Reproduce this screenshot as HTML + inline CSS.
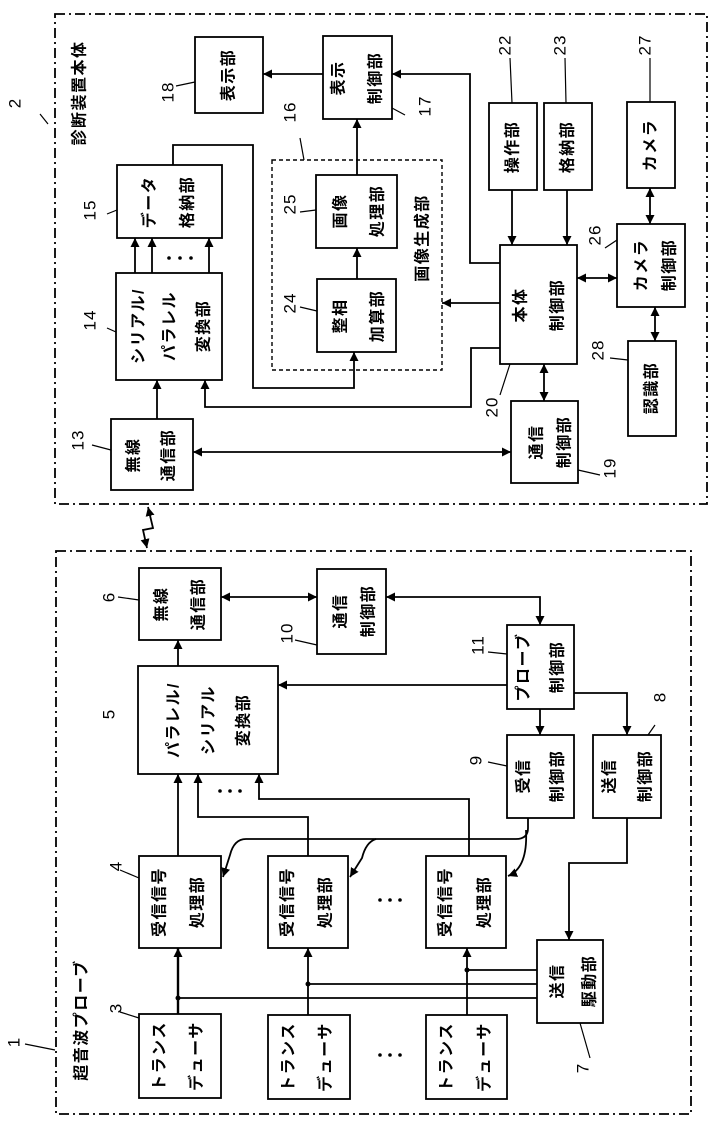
<!DOCTYPE html>
<html><head><meta charset="utf-8"><style>
html,body{margin:0;padding:0;background:#fff}
svg{display:block}
text{font-family:"Liberation Sans","Noto Sans CJK JP",sans-serif;font-size:16px;font-weight:bold;fill:#000;text-anchor:middle;dominant-baseline:central;letter-spacing:1.5px}
.n{font-size:17px;font-weight:normal;letter-spacing:1px}
</style></head><body>
<svg width="710" height="1128" viewBox="0 0 710 1128" xmlns="http://www.w3.org/2000/svg">
<defs>
<marker id="a" viewBox="0 0 10 10" refX="10" refY="5" markerWidth="9" markerHeight="9" markerUnits="userSpaceOnUse" orient="auto-start-reverse"><path d="M0,0L10,5L0,10z" fill="#000"/></marker>
</defs>
<g fill="none" stroke="#000" stroke-width="1.8">
<rect x="55" y="14" width="652" height="490" stroke-dasharray="10,4,2,4"/>
<rect x="56" y="551" width="635" height="563" stroke-dasharray="10,4,2,4"/>
<rect x="195" y="37" width="68" height="76"/>
<rect x="323" y="36" width="69" height="83"/>
<rect x="117" y="165" width="105" height="73"/>
<rect x="116" y="273" width="106" height="107"/>
<rect x="111" y="419" width="82" height="71"/>
<rect x="272" y="160" width="170" height="210" stroke-dasharray="4,3" stroke-width="1.4"/>
<rect x="316" y="175" width="81" height="73"/>
<rect x="317" y="279" width="79" height="73"/>
<rect x="489" y="103" width="48" height="87"/>
<rect x="544" y="103" width="48" height="87"/>
<rect x="627" y="102" width="48" height="86"/>
<rect x="500" y="245" width="77" height="119"/>
<rect x="617" y="224" width="68" height="83"/>
<rect x="628" y="341" width="48" height="95"/>
<rect x="511" y="401" width="67" height="82"/>
<path d="M323 74H263" marker-end="url(#a)"/>
<path d="M500 263H470V74H392" marker-end="url(#a)"/>
<path d="M357 175V119" marker-end="url(#a)"/>
<path d="M357 279V248" marker-end="url(#a)"/>
<path d="M500 303H442" marker-end="url(#a)"/>
<path d="M512 190V245" marker-end="url(#a)"/>
<path d="M567 190V245" marker-end="url(#a)"/>
<path d="M650 188V224" marker-start="url(#a)" marker-end="url(#a)"/>
<path d="M577 278H617" marker-start="url(#a)" marker-end="url(#a)"/>
<path d="M655 307V341" marker-start="url(#a)" marker-end="url(#a)"/>
<path d="M544 364V401" marker-start="url(#a)" marker-end="url(#a)"/>
<path d="M193 452H511" marker-start="url(#a)" marker-end="url(#a)"/>
<path d="M157 419V380" marker-end="url(#a)"/>
<path d="M500 348H471V407H205V380" marker-end="url(#a)"/>
<path d="M173 165V145H253V388H354V352" marker-end="url(#a)"/>
<path d="M135 273V238" marker-end="url(#a)"/>
<path d="M152 273V238" marker-end="url(#a)"/>
<path d="M209 273V238" marker-end="url(#a)"/>
<path d="M148 507L153 528L143 530L147 548" marker-start="url(#a)" marker-end="url(#a)"/>
<rect x="139" y="568" width="82" height="72"/>
<rect x="317" y="569" width="69" height="85"/>
<rect x="507" y="625" width="67" height="84"/>
<rect x="138" y="666" width="140" height="108"/>
<rect x="507" y="735" width="67" height="83"/>
<rect x="593" y="735" width="68" height="83"/>
<rect x="139" y="856" width="82" height="92"/>
<rect x="268" y="856" width="80" height="92"/>
<rect x="426" y="856" width="80" height="92"/>
<rect x="537" y="940" width="66" height="83"/>
<rect x="139" y="1014" width="82" height="84"/>
<rect x="268" y="1015" width="82" height="84"/>
<rect x="426" y="1015" width="81" height="84"/>
<path d="M221 597H317" marker-start="url(#a)" marker-end="url(#a)"/>
<path d="M386 597H540V625" marker-start="url(#a)" marker-end="url(#a)"/>
<path d="M178 666V640" marker-end="url(#a)"/>
<path d="M507 685H278" marker-end="url(#a)"/>
<path d="M540 709V735" marker-end="url(#a)"/>
<path d="M574 693H627V735" marker-end="url(#a)"/>
<path d="M178 856V774" marker-end="url(#a)"/>
<path d="M308 856V817H198V774" marker-end="url(#a)"/>
<path d="M469 856V799H259V774" marker-end="url(#a)"/>
<path d="M528 818V828Q528 839 516 839H246Q234 839 230 855L223 877" marker-end="url(#a)"/>
<path d="M376 839Q366 842 362 858L350 877" marker-end="url(#a)"/>
<path d="M526 830Q528 868 508 876" marker-end="url(#a)"/>
<path d="M627 818V863H569V940" marker-end="url(#a)"/>
<path d="M178 1014V948" stroke-width="2.4" marker-end="url(#a)"/>
<path d="M308 1015V948" marker-end="url(#a)"/>
<path d="M467 1015V948" marker-end="url(#a)"/>
<path d="M537 970H467M537 984H308M537 998H178"/>
</g>
<g fill="none" stroke="#000" stroke-width="1.2">
<path d="M40 114L48 124M176 86L195 82M300 138L304 160M392 108L405 115M510 58L512 103M565 58L566 103M650 58L650 102M107 214L117 210M107 328L116 332M92 445L111 450M300 212L316 210M300 307L317 311M605 248L617 240M510 364L500 395M610 358L628 360M578 470L600 475M118 597L139 600M295 640L317 645M488 652L507 654M488 762L507 766M655 725L648 735M120 870L139 878M120 1012L139 1018M580 1023L590 1058M25 1044L55 1050"/>
</g>
<g fill="#000">
<circle cx="178" cy="998" r="2.5"/><circle cx="308" cy="984" r="2.5"/><circle cx="467" cy="970" r="2.5"/>
<circle cx="169" cy="258" r="1.8"/><circle cx="180" cy="258" r="1.8"/><circle cx="191" cy="258" r="1.8"/>
<circle cx="220" cy="791" r="1.8"/><circle cx="230" cy="791" r="1.8"/><circle cx="240" cy="791" r="1.8"/>
<circle cx="380" cy="900" r="1.8"/><circle cx="390" cy="900" r="1.8"/><circle cx="400" cy="900" r="1.8"/>
<circle cx="380" cy="1055" r="1.8"/><circle cx="390" cy="1055" r="1.8"/><circle cx="400" cy="1055" r="1.8"/>
</g>
<text transform="translate(80,93) rotate(-90)">診断装置本体</text>
<text transform="translate(229,75) rotate(-90)">表示部</text>
<text transform="translate(339,78) rotate(-90)">表示</text>
<text transform="translate(376,78) rotate(-90)">制御部</text>
<text transform="translate(150,202) rotate(-90)">データ</text>
<text transform="translate(188,202) rotate(-90)">格納部</text>
<text transform="translate(139,326) rotate(-90)">シリアル/</text>
<text transform="translate(170,326) rotate(-90)">パラレル</text>
<text transform="translate(204,326) rotate(-90)">変換部</text>
<text transform="translate(134,455) rotate(-90)">無線</text>
<text transform="translate(169,455) rotate(-90)">通信部</text>
<text transform="translate(341,211) rotate(-90)">画像</text>
<text transform="translate(378,211) rotate(-90)">処理部</text>
<text transform="translate(341,316) rotate(-90)">整相</text>
<text transform="translate(378,316) rotate(-90)">加算部</text>
<text transform="translate(423,238) rotate(-90)">画像生成部</text>
<text transform="translate(513,147) rotate(-90)">操作部</text>
<text transform="translate(568,147) rotate(-90)">格納部</text>
<text transform="translate(651,145) rotate(-90)">カメラ</text>
<text transform="translate(521,305) rotate(-90)">本体</text>
<text transform="translate(558,305) rotate(-90)">制御部</text>
<text transform="translate(642,265) rotate(-90)">カメラ</text>
<text transform="translate(670,265) rotate(-90)">制御部</text>
<text transform="translate(652,388) rotate(-90)">認識部</text>
<text transform="translate(537,442) rotate(-90)">通信</text>
<text transform="translate(565,442) rotate(-90)">制御部</text>
<text transform="translate(82,1020) rotate(-90)">超音波プローブ</text>
<text transform="translate(162,604) rotate(-90)">無線</text>
<text transform="translate(199,604) rotate(-90)">通信部</text>
<text transform="translate(341,611) rotate(-90)">通信</text>
<text transform="translate(369,611) rotate(-90)">制御部</text>
<text transform="translate(524,667) rotate(-90)">プローブ</text>
<text transform="translate(558,667) rotate(-90)">制御部</text>
<text transform="translate(174,720) rotate(-90)">パラレル/</text>
<text transform="translate(209,720) rotate(-90)">シリアル</text>
<text transform="translate(244,720) rotate(-90)">変換部</text>
<text transform="translate(524,776) rotate(-90)">受信</text>
<text transform="translate(558,776) rotate(-90)">制御部</text>
<text transform="translate(610,776) rotate(-90)">送信</text>
<text transform="translate(646,776) rotate(-90)">制御部</text>
<text transform="translate(160,902) rotate(-90)">受信信号</text>
<text transform="translate(198,902) rotate(-90)">処理部</text>
<text transform="translate(288,902) rotate(-90)">受信信号</text>
<text transform="translate(326,902) rotate(-90)">処理部</text>
<text transform="translate(446,902) rotate(-90)">受信信号</text>
<text transform="translate(485,902) rotate(-90)">処理部</text>
<text transform="translate(558,981) rotate(-90)">送信</text>
<text transform="translate(590,981) rotate(-90)">駆動部</text>
<text transform="translate(160,1056) rotate(-90)">トランス</text>
<text transform="translate(197,1056) rotate(-90)">デューサ</text>
<text transform="translate(289,1057) rotate(-90)">トランス</text>
<text transform="translate(326,1057) rotate(-90)">デューサ</text>
<text transform="translate(447,1057) rotate(-90)">トランス</text>
<text transform="translate(485,1057) rotate(-90)">デューサ</text>
<text class="n" transform="translate(15,103) rotate(-90)">2</text>
<text class="n" transform="translate(168,92) rotate(-90)">18</text>
<text class="n" transform="translate(290,112) rotate(-90)">16</text>
<text class="n" transform="translate(425,106) rotate(-90)">17</text>
<text class="n" transform="translate(505,45) rotate(-90)">22</text>
<text class="n" transform="translate(560,45) rotate(-90)">23</text>
<text class="n" transform="translate(645,45) rotate(-90)">27</text>
<text class="n" transform="translate(90,210) rotate(-90)">15</text>
<text class="n" transform="translate(90,320) rotate(-90)">14</text>
<text class="n" transform="translate(78,440) rotate(-90)">13</text>
<text class="n" transform="translate(290,204) rotate(-90)">25</text>
<text class="n" transform="translate(290,303) rotate(-90)">24</text>
<text class="n" transform="translate(595,235) rotate(-90)">26</text>
<text class="n" transform="translate(492,407) rotate(-90)">20</text>
<text class="n" transform="translate(598,350) rotate(-90)">28</text>
<text class="n" transform="translate(610,468) rotate(-90)">19</text>
<text class="n" transform="translate(109,597) rotate(-90)">6</text>
<text class="n" transform="translate(287,633) rotate(-90)">10</text>
<text class="n" transform="translate(478,645) rotate(-90)">11</text>
<text class="n" transform="translate(109,714) rotate(-90)">5</text>
<text class="n" transform="translate(476,760) rotate(-90)">9</text>
<text class="n" transform="translate(660,697) rotate(-90)">8</text>
<text class="n" transform="translate(116,866) rotate(-90)">4</text>
<text class="n" transform="translate(116,1008) rotate(-90)">3</text>
<text class="n" transform="translate(583,1068) rotate(-90)">7</text>
<text class="n" transform="translate(14,1042) rotate(-90)">1</text>
</svg>
</body></html>
